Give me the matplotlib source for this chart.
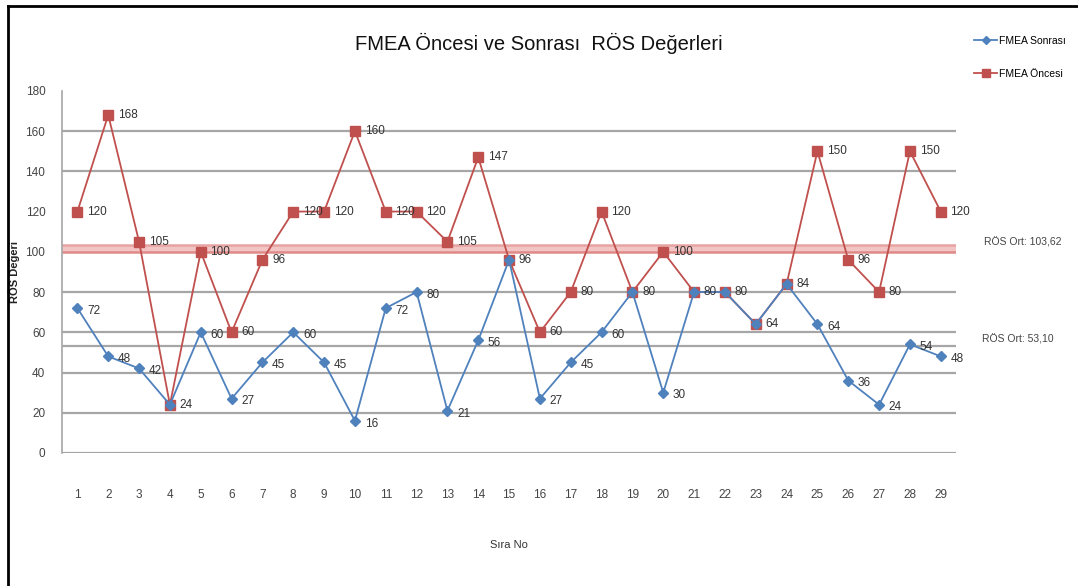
import matplotlib.pyplot as plt
from matplotlib.lines import Line2D

plt.rcParams['font.family'] = ['Liberation Sans', 'DejaVu Sans']

# sira numaralari ve RÖS degerleri
sira_no = list(range(1, 30))
fmea_sonrasi = [72, 48, 42, 24, 60, 27, 45, 60, 45, 16, 72, 80, 21, 56, 96,
                27, 45, 60, 80, 30, 80, 80, 64, 84, 64, 36, 24, 54, 48]
fmea_oncesi = [120, 168, 105, 24, 100, 60, 96, 120, 120, 160, 120, 120, 105, 147, 96,
               60, 80, 120, 80, 100, 80, 80, 64, 84, 150, 96, 80, 150, 120]
y_ticks = [0, 20, 40, 60, 80, 100, 120, 140, 160, 180]
grid_levels = [0, 20, 40, 60, 80, 140, 160]

ort_oncesi = sum(fmea_oncesi) / len(fmea_oncesi)
ort_sonrasi = sum(fmea_sonrasi) / len(fmea_sonrasi)

blue = '#4F81BD'
red = '#C0504D'
grid_c = '#A6A6A6'

fig = plt.figure(figsize=(10.78, 5.86), dpi=100)
ax = fig.add_axes([0.0575, 0.227, 0.8295, 0.618])

for g in grid_levels:
    ax.axhline(g, color=grid_c, lw=1.6, zorder=1)
# ortalama cizgileri
ax.axhline(ort_sonrasi, color=grid_c, lw=1.6, zorder=1)
ax.axhspan(100, ort_oncesi, color='#F2C4C3', lw=0, zorder=1)
ax.axhline(100, color='#E08A88', lw=1.8, zorder=1)
ax.axhline(ort_oncesi, color='#E7A3A2', lw=1.8, zorder=1)

ax.plot(sira_no, fmea_oncesi, color=red, lw=1.3, marker='s', ms=7.5,
        mec=red, mfc=red, zorder=3, label='FMEA Öncesi')
ax.plot(sira_no, fmea_sonrasi, color=blue, lw=1.3, marker='D', ms=5.5,
        mec=blue, mfc=blue, zorder=4, label='FMEA Sonrası')

for x, v in zip(sira_no, fmea_oncesi):
    ax.annotate(str(v), (x, v), xytext=(7, 0), textcoords='offset points',
                va='center', ha='left', fontsize=8.5, color='#333333', zorder=5)
for x, v, r in zip(sira_no, fmea_sonrasi, fmea_oncesi):
    if v == r:
        continue
    ax.annotate(str(v), (x, v), xytext=(7, -2), textcoords='offset points',
                va='center', ha='left', fontsize=8.5, color='#333333', zorder=5)

ax.text(30.4, ort_oncesi + 1, 'RÖS Ort: %.2f' % ort_oncesi, fontsize=7.5,
        color='#444444', va='center', ha='left', clip_on=False)
ax.text(30.35, ort_sonrasi + 3.5, 'RÖS Ort: %.2f' % ort_sonrasi, fontsize=7.5,
        color='#444444', va='center', ha='left', clip_on=False)
for t in ax.texts[-2:]:
    t.set_text(t.get_text().replace('.', ','))

ax.set_xlim(0.5, 29.5)
ax.set_ylim(0, 180)
ax.set_yticks(y_ticks)
ax.set_xticks(sira_no)
ax.tick_params(length=0, labelsize=8.5, colors='#444444')
ax.tick_params(axis='x', pad=26)
ax.tick_params(axis='y', pad=12)
for s in ['top', 'right', 'bottom']:
    ax.spines[s].set_visible(False)
ax.spines['left'].set_color(grid_c)
ax.spines['left'].set_linewidth(1.2)

ax.set_xlabel('Sıra No', fontsize=8, color='#333333', labelpad=28)
ax.set_ylabel('RÖS Değeri', fontsize=8, fontweight='bold', color='#222222')
ax.yaxis.set_label_coords(-0.047, 0.5)

fig.text(0.5, 0.925, 'FMEA Öncesi ve Sonrası  RÖS Değerleri', ha='center', va='center',
         fontsize=14.5, color='#111111')

handles, labels = ax.get_legend_handles_labels()
fig.legend(handles[::-1], labels[::-1], loc='upper left', bbox_to_anchor=(0.895, 0.955),
           frameon=False, fontsize=7.5, labelspacing=2.2, handlelength=2.2,
           handletextpad=0.2, markerscale=0.8)

# cerceve
fig.add_artist(Line2D([0.0075, 0.0075], [0.0, 0.99], color='black', lw=2, transform=fig.transFigure))
fig.add_artist(Line2D([0.0075, 1.0], [0.99, 0.99], color='black', lw=2, transform=fig.transFigure))

fig.savefig('out.png', dpi=100)
